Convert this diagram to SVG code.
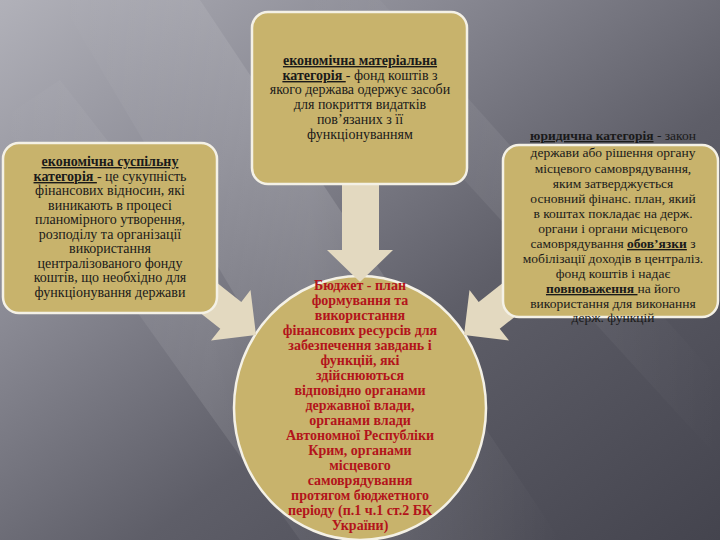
<svg xmlns="http://www.w3.org/2000/svg" width="720" height="540" viewBox="0 0 720 540">
<defs>
<linearGradient id="bg" x1="0" y1="0" x2="1" y2="1">
<stop offset="0" stop-color="#b1b1b9"/>
<stop offset="0.3" stop-color="#8a8a94"/>
<stop offset="0.6" stop-color="#5e5e68"/>
<stop offset="1" stop-color="#44444e"/>
</linearGradient>
<linearGradient id="streak" x1="0" y1="0" x2="1" y2="0">
<stop offset="0" stop-color="#ffffff" stop-opacity="0"/>
<stop offset="0.5" stop-color="#ffffff" stop-opacity="0.14"/>
<stop offset="1" stop-color="#ffffff" stop-opacity="0"/>
</linearGradient>
<style>
.box{fill:#c8b36c;stroke:#f4f1e6;stroke-width:2.5}
.arr{fill:#e3d9c0}
.t{font-family:"Liberation Serif","DejaVu Serif",serif;fill:#1a1a1a;text-anchor:middle}
.b{font-weight:bold;text-decoration:underline}
.r{font-family:"Liberation Serif","DejaVu Serif",serif;fill:#b3141b;font-weight:bold;text-anchor:middle;font-size:14px}
</style>
</defs>
<rect width="720" height="540" fill="url(#bg)"/>
<polygon points="60,0 200,0 560,540 380,540" fill="url(#streak)"/>
<polygon points="0,120 60,80 420,540 300,540" fill="url(#streak)" opacity="0.7"/>
<polygon points="300,0 380,0 720,380 720,460" fill="url(#streak)" opacity="0.5"/>

<g id="budget">
<ellipse cx="360" cy="408" rx="126" ry="132" class="box"/>
</g>

<g id="connectors">
<polygon class="arr" points="342,182 379,182 379,250 393,250 360,282 327,250 342,250"/>
<polygon class="arr" points="202,271 241.3,301.9 250.5,290 256,335 211,340.5 220.3,328.7 181,297.8"/>
<polygon class="arr" points="518,271 478.7,301.9 469.5,290 464,335 509,340.5 499.7,328.7 539,297.8"/>
</g>

<g id="top-box">
<rect x="252" y="12" width="215" height="172" rx="16" class="box"/>
<g class="t" font-size="14">
<text x="360" y="65"><tspan class="b">економічна матеріальна</tspan></text>
<text x="360" y="80"><tspan class="b">категорія </tspan>- фонд коштів з</text>
<text x="360" y="94">якого держава одержує засоби</text>
<text x="360" y="109">для покриття видатків</text>
<text x="360" y="124">пов’язаних з її</text>
<text x="360" y="139">функціонуванням</text>
</g>
</g>

<g id="left-box">
<rect x="3" y="143" width="214" height="170" rx="16" class="box"/>
<g class="t" font-size="14">
<text x="110" y="166"><tspan class="b">економічна суспільну</tspan></text>
<text x="110" y="181"><tspan class="b">категорія </tspan>- це сукупність</text>
<text x="110" y="195">фінансових відносин, які</text>
<text x="110" y="210">виникають в процесі</text>
<text x="110" y="224">планомірного утворення,</text>
<text x="110" y="239">розподілу та організації</text>
<text x="110" y="253">використання</text>
<text x="110" y="268">централізованого фонду</text>
<text x="110" y="282">коштів, що необхідно для</text>
<text x="110" y="297">функціонування держави</text>
</g>
</g>

<g id="right-box">
<rect x="503" y="145" width="215" height="172" rx="16" class="box"/>
<g class="t" font-size="13.5">
<text x="613" y="140"><tspan class="b">юридична категорія</tspan> - закон</text>
<text x="613" y="157">держави або рішення органу</text>
<text x="613" y="173">місцевого самоврядування,</text>
<text x="613" y="188">яким затверджується</text>
<text x="613" y="203">основний фінанс. план, який</text>
<text x="613" y="218">в коштах покладає на держ.</text>
<text x="613" y="233">органи і органи місцевого</text>
<text x="613" y="248">самоврядування <tspan class="b">обов’язки</tspan> з</text>
<text x="613" y="263">мобілізації доходів в централіз.</text>
<text x="613" y="278">фонд коштів і надає</text>
<text x="613" y="293"><tspan class="b">повноваження </tspan>на його</text>
<text x="613" y="308">використання для виконання</text>
<text x="613" y="322">держ. функцій</text>
</g>
</g>

<g id="budget-text">
<text class="r" x="360" y="290">Бюджет - план</text>
<text class="r" x="360" y="305">формування та</text>
<text class="r" x="360" y="320">використання</text>
<text class="r" x="360" y="335">фінансових ресурсів для</text>
<text class="r" x="360" y="350">забезпечення завдань і</text>
<text class="r" x="360" y="365">функцій, які</text>
<text class="r" x="360" y="380">здійснюються</text>
<text class="r" x="360" y="395">відповідно органами</text>
<text class="r" x="360" y="410">державної  влади,</text>
<text class="r" x="360" y="425">органами влади</text>
<text class="r" x="360" y="440">Автономної Республіки</text>
<text class="r" x="360" y="455">Крим, органами</text>
<text class="r" x="360" y="470">місцевого</text>
<text class="r" x="360" y="485">самоврядування</text>
<text class="r" x="360" y="500">протягом бюджетного</text>
<text class="r" x="360" y="515">періоду (п.1 ч.1 ст.2 БК</text>
<text class="r" x="360" y="530">України)</text>
</g>
</svg>
